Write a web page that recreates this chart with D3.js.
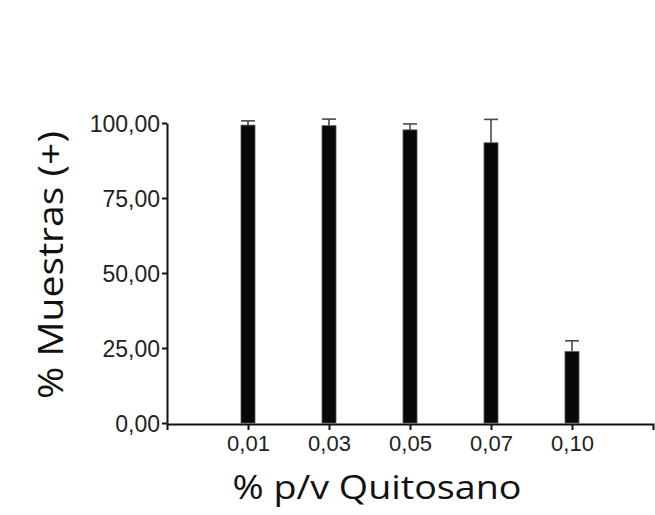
<!DOCTYPE html>
<html>
<head>
<meta charset="utf-8">
<script src="https://cdn.jsdelivr.net/npm/d3@7"></script>
<style>
  html, body { margin: 0; padding: 0; background: #ffffff; }
  svg { display: block; }
</style>
</head>
<body>
<script>
// Data
const categories = ["0,01", "0,03", "0,05", "0,07", "0,10"];
const values = [99.3, 99.1, 97.7, 93.4, 23.8];
const errors = [1.4, 2.2, 2.0, 7.8, 3.6];
const yTicks = [0, 25, 50, 75, 100];
const yTitle = "% Muestras (+)";
const xTitle = "% p/v Quitosano";

const W = 655, H = 515;
const svg = d3.select("body").append("svg").attr("width", W).attr("height", H);

const x = d3.scalePoint().domain(categories).range([167, 653]).padding(1);
const y = d3.scaleLinear().domain([0, 100]).range([423, 123]);

const fmt = d => d3.format(".2f")(d).replace(".", ",");

// Bars
const barW = 14;
svg.append("g").selectAll("rect").data(values).join("rect")
  .attr("x", (d, i) => x(categories[i]) - barW / 2)
  .attr("y", d => y(d))
  .attr("width", barW)
  .attr("height", d => y(0) - y(d))
  .attr("fill", "#080808")
  .attr("stroke", "#555")
  .attr("stroke-width", 0.8);

// Error bars (upper only)
const eg = svg.append("g").attr("stroke", "#4a4a4a").attr("stroke-width", 1.6);
values.forEach((v, i) => {
  const cx = x(categories[i]);
  eg.append("line").attr("x1", cx).attr("x2", cx).attr("y1", y(v)).attr("y2", y(v + errors[i]));
  eg.append("line").attr("x1", cx - 7).attr("x2", cx + 7).attr("y1", y(v + errors[i])).attr("y2", y(v + errors[i]));
});

// Y axis
const yAxis = svg.append("g").attr("transform", "translate(167,0)")
  .call(d3.axisLeft(y).tickValues(yTicks).tickFormat(fmt).tickSize(5).tickSizeOuter(0).tickPadding(2));
yAxis.select(".domain").attr("stroke", "#111").attr("stroke-width", 2);
yAxis.selectAll(".tick line").attr("stroke", "#111").attr("stroke-width", 2);
yAxis.selectAll("text").attr("font-family", "Liberation Sans, Arial, sans-serif")
  .attr("font-size", 23).attr("fill", "#222").attr("dy", "0.35em");

// X axis
const xAxis = svg.append("g").attr("transform", "translate(0," + (y(0) + 1) + ")")
  .call(d3.axisBottom(x).tickSize(6).tickSizeOuter(6).tickPadding(5));
xAxis.select(".domain").attr("stroke", "#111").attr("stroke-width", 2);
xAxis.selectAll(".tick line").attr("stroke", "#111").attr("stroke-width", 2);
xAxis.selectAll("text").attr("font-family", "Liberation Sans, Arial, sans-serif")
  .attr("font-size", 22).attr("fill", "#222");

// Titles
svg.append("text")
  .attr("transform", "translate(63,265) rotate(-90)")
  .attr("text-anchor", "middle")
  .attr("font-family", "Open Sans, sans-serif")
  .attr("font-size", 34)
  .attr("textLength", 268)
  .attr("lengthAdjust", "spacingAndGlyphs")
  .attr("fill", "#111")
  .text(yTitle);

svg.append("text")
  .attr("x", 377).attr("y", 499)
  .attr("text-anchor", "middle")
  .attr("font-family", "Open Sans, sans-serif")
  .attr("font-size", 32)
  .attr("textLength", 289)
  .attr("lengthAdjust", "spacingAndGlyphs")
  .attr("fill", "#111")
  .text(xTitle);
</script>
</body>
</html>
